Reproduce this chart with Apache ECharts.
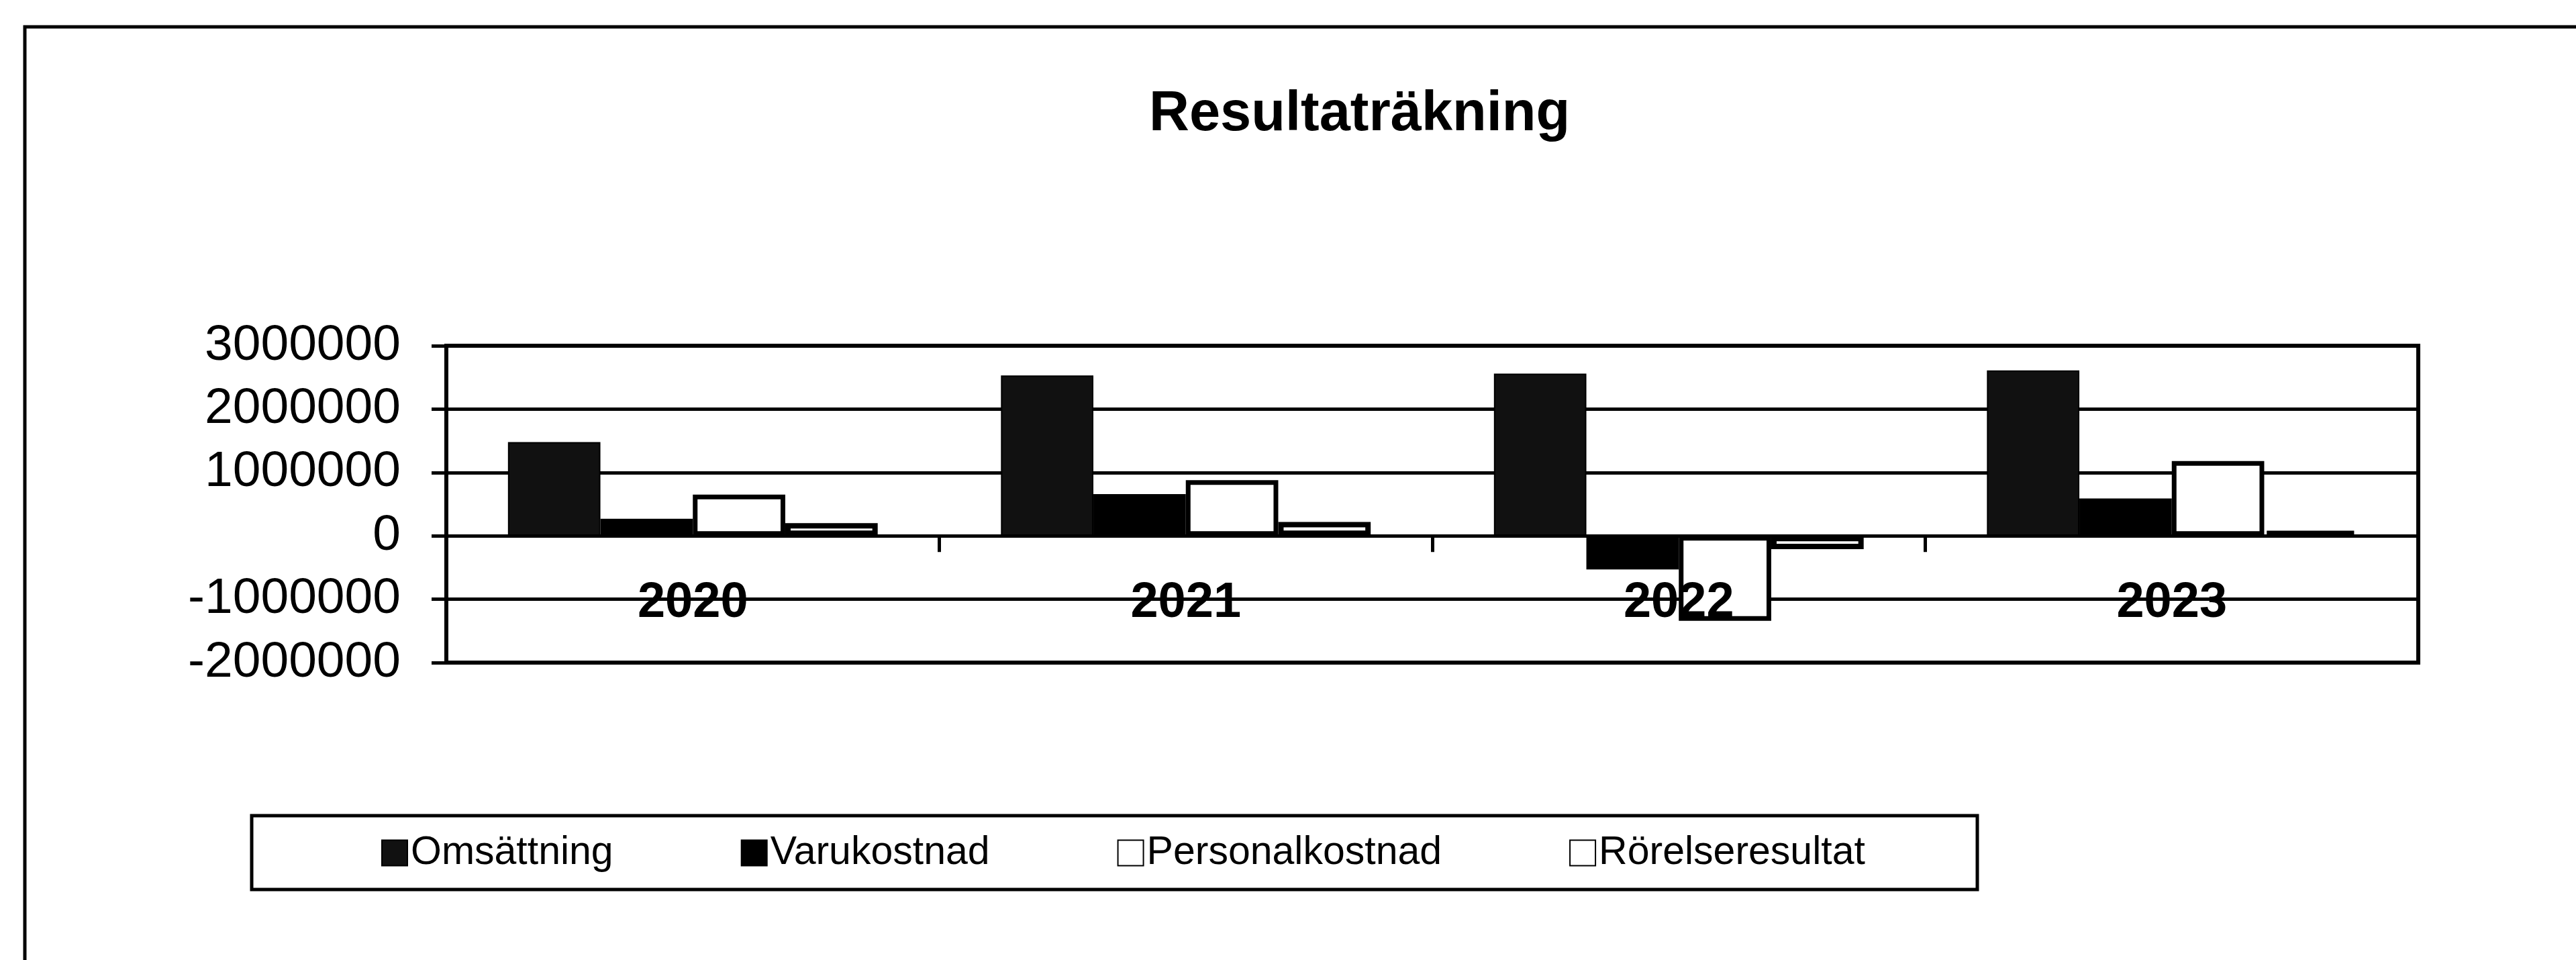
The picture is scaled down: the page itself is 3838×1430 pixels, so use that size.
<!DOCTYPE html>
<html>
<head>
<meta charset="utf-8">
<script src="https://cdn.jsdelivr.net/npm/echarts@6/dist/echarts.min.js"></script>
<style>
html, body { margin: 0; padding: 0; background: #fff; }
#chart { width: 3838px; height: 1430px; }
</style>
</head>
<body>
<div id="chart"></div>
<script>
var categories = ['2020', '2021', '2022', '2023'];
var seriesNames = ['Omsättning', 'Varukostnad', 'Personalkostnad', 'Rörelseresultat'];
var omsattning = [1480000, 2530000, 2560000, 2610000];
var varukostnad = [270000, 660000, -530000, 590000];
var personalkostnad = [650000, 880000, -1340000, 1180000];
var rorelseresultat = [200000, 220000, -210000, 80000];
var yMin = -2000000, yMax = 3000000, yStep = 1000000;

var font = 'Liberation Sans, Arial, sans-serif';

var chart = echarts.init(document.getElementById('chart'), null, {renderer: 'canvas'});

function bar(name, data, fill, border) {
    return {
        type: 'bar',
        name: name,
        data: data,
        barGap: '0%',
        barCategoryGap: '25%',
        itemStyle: {color: fill, borderColor: '#000', borderWidth: border},
        emphasis: {disabled: true}
    };
}

var option = {
    animation: false,
    backgroundColor: '#fff',
    title: {
        text: 'Resultaträkning',
        left: 1712,
        top: 130,
        padding: 0,
        textStyle: {fontFamily: font, fontSize: 83, fontWeight: 'bold', color: '#000'}
    },
    grid: {
        left: 665,
        right: 235,
        top: 515,
        bottom: 443,
        show: true,
        backgroundColor: '#fff',
        borderColor: '#000',
        borderWidth: 6
    },
    legend: {
        data: seriesNames,
        left: 568,
        top: 1241,
        padding: 0,
        itemGap: 190,
        itemWidth: 38,
        itemHeight: 38,
        icon: 'rect',
        textStyle: {fontFamily: font, fontSize: 59, color: '#000'},
        selectedMode: false
    },
    xAxis: {
        type: 'category',
        data: categories,
        z: 5,
        axisLine: {show: true, onZero: true, lineStyle: {color: '#000', width: 5}},
        axisTick: {show: true, length: 24, lineStyle: {color: '#000', width: 5}},
        axisLabel: {margin: -125, fontFamily: font, fontSize: 74, fontWeight: 'bold', color: '#000'},
        splitLine: {show: false}
    },
    yAxis: {
        type: 'value',
        min: yMin,
        max: yMax,
        interval: yStep,
        axisLine: {show: true, lineStyle: {color: '#000', width: 6}},
        axisTick: {show: true, length: 22, lineStyle: {color: '#000', width: 5}},
        axisLabel: {
            margin: 68,
            fontFamily: font,
            fontSize: 75,
            color: '#000',
            formatter: function (v) { return String(v); }
        },
        splitLine: {show: true, lineStyle: {color: '#000', width: 5}}
    },
    series: [
        bar(seriesNames[0], omsattning, '#111', 2),
        bar(seriesNames[1], varukostnad, '#000', 2),
        bar(seriesNames[2], personalkostnad, '#fff', 7),
        bar(seriesNames[3], rorelseresultat, '#fff', 8)
    ],
    graphic: [
        {
            type: 'rect',
            shape: {x: 37, y: 40, width: 4200, height: 2000},
            style: {fill: null, stroke: '#000', lineWidth: 5},
            silent: true
        },
        {
            type: 'rect',
            shape: {x: 375, y: 1215, width: 2571, height: 110},
            style: {fill: null, stroke: '#000', lineWidth: 5},
            silent: true
        }
    ]
};

chart.setOption(option);
</script>
</body>
</html>
